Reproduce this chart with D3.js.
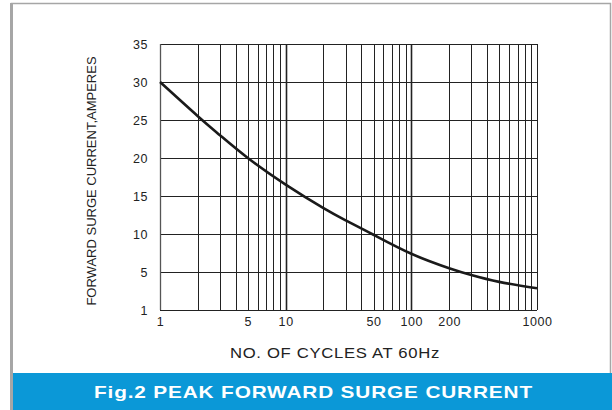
<!DOCTYPE html>
<html>
<head>
<meta charset="utf-8">
<script src="https://cdn.jsdelivr.net/npm/d3@7"></script>
<style>
  body { margin: 0; background: #fff; }
  svg { display: block; font-family: "Liberation Sans", Arial, sans-serif; }
</style>
</head>
<body>
<div id="chart"></div>
<script>
// Peak forward surge current vs number of cycles
const cycles = [1, 2, 3, 5, 10, 20, 30, 50, 100, 200, 300, 500, 1000];
const amps = [30, 25.5, 23.0, 20.0, 16.5, 13.4, 11.8, 9.9, 7.4, 5.5, 4.6, 3.7, 2.85];

const xTicks = [1, 5, 10, 50, 100, 200, 1000];
const yTicks = [0, 5, 10, 15, 20, 25, 30, 35];
const yTickLabels = ['1', '5', '10', '15', '20', '25', '30', '35'];

const W = 612, H = 410;
const margin = { top: 44, right: 75, bottom: 100, left: 160 };
const width = W - margin.left - margin.right;
const height = H - margin.top - margin.bottom;

const svg = d3.select('#chart')
    .append('svg')
    .attr('width', W)
    .attr('height', H);

// frame
svg.append('rect')
    .attr('x', 11.5).attr('y', 3.5)
    .attr('width', 599).attr('height', 420)
    .attr('fill', 'none')
    .attr('stroke', '#a6a6a6')
    .attr('stroke-width', 1.5);
svg.append('line')
    .attr('x1', 11.5).attr('x2', 11.5).attr('y1', 3).attr('y2', H)
    .attr('stroke', '#a6a6a6').attr('stroke-width', 3);

// banner (original font is a wide bold sans, so stretch it horizontally)
svg.append('rect')
    .attr('x', 13).attr('y', 373)
    .attr('width', W - 13).attr('height', H - 373)
    .attr('fill', '#0b98d7');
svg.append('text')
    .attr('transform', 'translate(94,398) scale(1.3,1)')
    .attr('fill', '#fff')
    .attr('textLength', 337)
    .attr('lengthAdjust', 'spacing')
    .style('font-size', '16px')
    .style('font-weight', 'bold')
    .text('Fig.2 PEAK FORWARD SURGE CURRENT');

const g = svg.append('g')
    .attr('transform', `translate(${margin.left},${margin.top})`);

const x = d3.scaleLog()
    .domain([1, 1000])
    .range([0, width]);

const y = d3.scaleLinear()
    .domain([0, 35])
    .range([height, 0]);

// vertical grid: every 1..9 of each decade
const vGrid = [];
[1, 10, 100].forEach(dec => {
    for (let k = 1; k <= 9; k++) vGrid.push(dec * k);
});
vGrid.push(1000);

g.selectAll('.vgrid')
    .data(vGrid)
    .enter()
    .append('line')
    .attr('class', 'vgrid')
    .attr('x1', d => Math.round(x(d)) + 0.5)
    .attr('x2', d => Math.round(x(d)) + 0.5)
    .attr('y1', 0)
    .attr('y2', height)
    .attr('stroke', '#222')
    .attr('stroke-width', d => (d === 10 || d === 100) ? 1.6 : 1);

g.selectAll('.hgrid')
    .data(yTicks)
    .enter()
    .append('line')
    .attr('class', 'hgrid')
    .attr('x1', 0)
    .attr('x2', width)
    .attr('y1', d => Math.round(y(d)) + 0.5)
    .attr('y2', d => Math.round(y(d)) + 0.5)
    .attr('stroke', '#222')
    .attr('stroke-width', 1);

// left edge a bit greyer, like the original
g.append('line')
    .attr('x1', 0.5).attr('x2', 0.5).attr('y1', 0).attr('y2', height)
    .attr('stroke', '#555').attr('stroke-width', 1.3);

// axes (labels only)
const xAxis = g.append('g')
    .attr('transform', `translate(0,${height})`)
    .call(d3.axisBottom(x).tickValues(xTicks).tickFormat(d3.format('d')).tickSize(0).tickPadding(7));
xAxis.select('.domain').remove();
xAxis.selectAll('text')
    .style('font-size', '12.5px')
    .style('letter-spacing', '0.6px')
    .attr('fill', '#222');

const yAxis = g.append('g')
    .call(d3.axisLeft(y).tickValues(yTicks).tickFormat((d, i) => yTickLabels[i]).tickSize(0).tickPadding(12));
yAxis.select('.domain').remove();
yAxis.selectAll('text')
    .style('font-size', '12.5px')
    .style('letter-spacing', '0.6px')
    .attr('fill', '#222');

// curve
const line = d3.line()
    .x((d, i) => x(cycles[i]))
    .y(d => y(d))
    .curve(d3.curveNatural);

g.append('path')
    .datum(amps)
    .attr('d', line)
    .attr('fill', 'none')
    .attr('stroke', '#1a1a1a')
    .attr('stroke-width', 2.6);

// axis titles
svg.append('text')
    .attr('transform', 'translate(230,358) scale(1.15,1)')
    .attr('fill', '#222')
    .attr('textLength', 182)
    .attr('lengthAdjust', 'spacing')
    .style('font-size', '14.5px')
    .text('NO. OF CYCLES AT 60Hz');

svg.append('text')
    .attr('transform', 'translate(96,181) rotate(-90)')
    .attr('text-anchor', 'middle')
    .attr('fill', '#222')
    .style('font-size', '13px')
    .text('FORWARD SURGE CURRENT,AMPERES');
</script>
</body>
</html>
